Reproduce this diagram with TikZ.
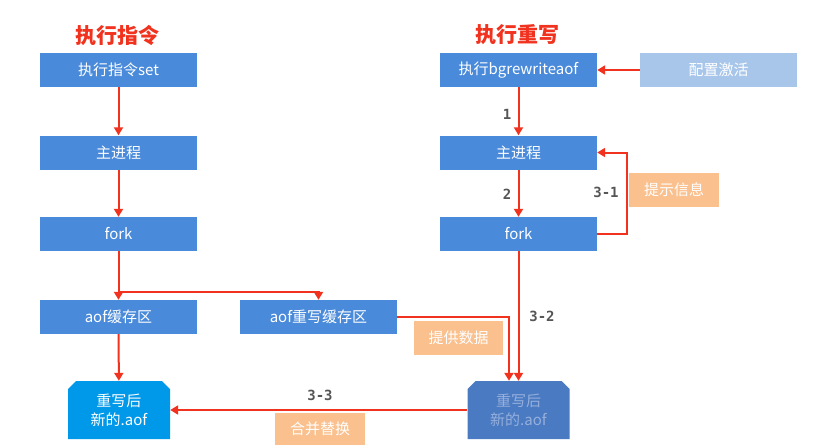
\documentclass[tikz,border=0pt]{standalone}
\usepackage{fontspec}
\newfontfamily\cjk{Noto Sans CJK SC}
\newfontfamily\lblfont{DejaVu Sans Mono}
\usetikzlibrary{arrows.meta,shapes.misc}
\definecolor{boxblue}{RGB}{74,138,218}
\definecolor{lightblue}{RGB}{168,198,234}
\definecolor{outblue}{RGB}{0,152,232}
\definecolor{outdark}{RGB}{74,122,194}
\definecolor{outtext}{RGB}{150,175,220}
\definecolor{orangebox}{RGB}{250,192,142}
\definecolor{linered}{RGB}{240,50,30}
\definecolor{lblgray}{RGB}{85,85,85}
\begin{document}
\begin{tikzpicture}[x=1pt,y=-1pt,
  box/.style={fill=boxblue,text=white,minimum width=157pt,minimum height=34pt,inner sep=0pt,font=\cjk\fontsize{15}{17}\selectfont},
  cfgbox/.style={box,fill=lightblue},
  notebox/.style={fill=orangebox,text=white,minimum width=90pt,minimum height=34pt,inner sep=0pt,font=\cjk\fontsize{15}{17}\selectfont},
  outbox/.style={chamfered rectangle,chamfered rectangle corners={north west,north east},chamfered rectangle xsep=4pt,chamfered rectangle ysep=4pt,minimum width=102pt,minimum height=58pt,inner sep=0pt,align=center,font=\cjk\fontsize{15}{19}\selectfont},
  title/.style={text=linered,font=\cjk\bfseries\fontsize{21}{24}\selectfont},
  lbl/.style={text=lblgray,font=\lblfont\bfseries\fontsize{14}{16}\selectfont},
  arr/.style={draw=linered,line width=2pt,-{Triangle[length=8pt,width=9pt]}},
  ln/.style={draw=linered,line width=2pt}
]
\fill[white] (0,0) rectangle (831,447);
\useasboundingbox (0,0) rectangle (831,447);

% titles
\node[title] (t1) at (117,35) {执行指令};
\node[title] (t2) at (517,35) {执行重写};

% left column
\node[box] (set) at (118.5,70) {执行指令set};
\node[box] (main) at (118.5,152.5) {主进程};
\node[box] (fork) at (118.5,234) {fork};
\node[box] (aofbuf) at (118.5,317) {aof缓存区};
\node[box] (aofrw) at (318.5,317) {aof重写缓存区};
\node[outbox,fill=outblue,text=white] (out1) at (119,410) {重写后\\新的.aof};

% right column
\node[box] (bg) at (518.5,70) {执行bgrewriteaof};
\node[cfgbox] (cfg) at (718.5,70) {配置激活};
\node[box] (main2) at (518.5,152.5) {主进程};
\node[box] (fork2) at (518.5,234) {fork};
\node[outbox,fill=outdark,text=outtext] (out2) at (518.5,410) {重写后\\新的.aof};

% notes
\node[notebox] (tip) at (674,190) {提示信息};
\node[notebox,minimum width=89pt] (data) at (458.5,338) {提供数据};
\node[notebox,minimum height=32pt] (merge) at (320,429) {合并替换};

% labels
\node[lbl] (l1) at (507,114) {1};
\node[lbl] (l2) at (507,194) {2};
\node[lbl] (l31) at (606,192) {3-1};
\node[lbl] (l32) at (542,316) {3-2};
\node[lbl] (l33) at (320,395) {3-3};

% connectors left
\draw[arr] (set) -- (main);
\draw[arr] (main) -- (fork);
\draw[arr] (fork) -- (aofbuf);
\draw[arr] (aofbuf) -- (out1);
\draw[arr] (fork.south) -- ++(0,41) -| (aofrw.north);
\draw[arr] (aofrw.east) -| ([xshift=-9.5pt]out2.north);

% connectors right
\draw[arr] (cfg.west) -- (bg.east);
\draw[arr] (bg) -- (main2);
\draw[arr] (main2) -- (fork2);
\draw[arr] (fork2.east) -- ++(30,0) |- (main2.east);
\draw[arr] (fork2.south) -- (out2.north);
\draw[arr] (out2.west) -- (out1.east);
\end{tikzpicture}
\end{document}
